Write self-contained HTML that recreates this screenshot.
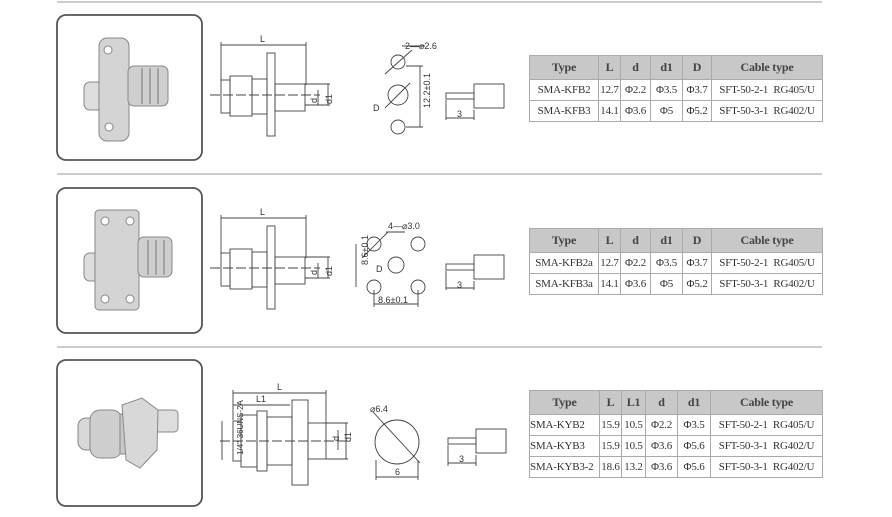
<!DOCTYPE html>
<html><head><meta charset="utf-8"><style>
body{margin:0;background:#fff;width:892px;height:517px;overflow:hidden;font-family:"Liberation Serif",serif}
svg{position:absolute;left:0;top:0}
table{position:absolute;border-collapse:collapse;table-layout:fixed;font-size:11px;letter-spacing:-0.2px;color:#333;border:1.5px solid #777}
td,th{border:1px solid #aaa;padding:0;height:20px;white-space:nowrap;text-align:center;overflow:hidden}
th{background:#c8c8c8;height:23px;font-weight:bold;color:#444;font-size:12px}
td.l{text-align:left}
</style></head><body>
<svg width="892" height="517" viewBox="0 0 892 517" font-family="Liberation Sans,sans-serif">
<g stroke="#ccc" stroke-width="2"><line x1="57" y1="2" x2="822" y2="2"/><line x1="57" y1="174" x2="822" y2="174"/><line x1="57" y1="347" x2="822" y2="347"/></g>
<g fill="none" stroke="#555" stroke-width="1.8">
<rect x="57" y="15" width="145" height="145" rx="9"/>
<rect x="57" y="188" width="145" height="145" rx="9"/>
<rect x="57" y="360" width="145" height="146" rx="9"/>
</g>
<g stroke="#888" stroke-width="1">
<rect x="84" y="82" width="30" height="28" rx="6" fill="#ddd"/>
<rect x="99" y="38" width="30" height="103" rx="8" fill="#d4d4d4"/>
<circle cx="108" cy="50" r="4" fill="#fff"/><circle cx="109" cy="127" r="4" fill="#fff"/>
<rect x="128" y="66" width="40" height="40" rx="6" fill="#cfcfcf"/>
<g stroke="#777"><line x1="142" y1="68" x2="142" y2="104"/><line x1="150" y1="68" x2="150" y2="104"/><line x1="158" y1="68" x2="158" y2="104"/></g>
</g>
<g stroke="#888" stroke-width="1">
<rect x="84" y="253" width="30" height="28" rx="6" fill="#ddd"/>
<rect x="95" y="210" width="44" height="100" rx="4" fill="#d4d4d4"/>
<circle cx="105" cy="221" r="4" fill="#fff"/><circle cx="105" cy="299" r="4" fill="#fff"/><circle cx="130" cy="221" r="4" fill="#fff"/><circle cx="130" cy="299" r="4" fill="#fff"/>
<rect x="138" y="237" width="34" height="40" rx="6" fill="#cfcfcf"/>
<g stroke="#777"><line x1="148" y1="240" x2="148" y2="275"/><line x1="156" y1="240" x2="156" y2="275"/><line x1="164" y1="240" x2="164" y2="275"/></g>
</g>
<g stroke="#888" stroke-width="1">
<rect x="150" y="410" width="28" height="22" rx="4" fill="#ddd"/>
<rect x="78" y="418" width="22" height="32" rx="8" fill="#d8d8d8"/>
<rect x="90" y="410" width="32" height="48" rx="10" fill="#cfcfcf"/>
<rect x="120" y="414" width="12" height="40" fill="#c8c8c8"/>
<polygon points="122,405 142,398 158,410 157,450 140,468 126,460" fill="#d8d8d8"/>
</g>
<g fill="none" stroke="#444" stroke-width="0.9">
<line x1="221" y1="45" x2="306" y2="45"/><line x1="221" y1="42" x2="221" y2="80"/><line x1="306" y1="42" x2="306" y2="85"/>
<rect x="221" y="80" width="9" height="33"/><rect x="230" y="76" width="22" height="40"/><rect x="252" y="79" width="15" height="35"/>
<rect x="267" y="53" width="8" height="83"/><rect x="275" y="84" width="30" height="27"/>
<line x1="305" y1="84" x2="330" y2="84"/><line x1="305" y1="105" x2="330" y2="105"/><line x1="318" y1="90" x2="318" y2="105"/><line x1="328" y1="84" x2="328" y2="105"/>
<line x1="210" y1="95" x2="320" y2="95" stroke-dasharray="10,3"/>
<circle cx="398" cy="62" r="7"/><circle cx="398" cy="95" r="10"/><circle cx="398" cy="127" r="7"/>
<line x1="385" y1="74" x2="412" y2="50"/><line x1="385" y1="108" x2="410" y2="83"/>
<line x1="402" y1="46" x2="425" y2="46"/><line x1="420" y1="66" x2="420" y2="127"/>
<line x1="406" y1="66" x2="423" y2="66"/><line x1="406" y1="127" x2="423" y2="127"/>
<rect x="446" y="93" width="28" height="6"/><rect x="474" y="84" width="30" height="24"/><line x1="446" y1="100" x2="446" y2="120"/><line x1="474" y1="110" x2="474" y2="120"/><line x1="446" y1="118" x2="474" y2="118"/>
<line x1="221" y1="218" x2="306" y2="218"/><line x1="221" y1="215" x2="221" y2="253"/><line x1="306" y1="215" x2="306" y2="258"/>
<rect x="221" y="253" width="9" height="33"/><rect x="230" y="249" width="22" height="40"/><rect x="252" y="252" width="15" height="35"/>
<rect x="267" y="226" width="8" height="83"/><rect x="275" y="257" width="30" height="27"/>
<line x1="305" y1="257" x2="330" y2="257"/><line x1="305" y1="278" x2="330" y2="278"/><line x1="318" y1="263" x2="318" y2="278"/><line x1="328" y1="257" x2="328" y2="278"/>
<line x1="210" y1="268" x2="320" y2="268" stroke-dasharray="10,3"/>
<circle cx="374" cy="244" r="7"/><circle cx="418" cy="244" r="7"/><circle cx="396" cy="265" r="8"/><circle cx="374" cy="287" r="7"/><circle cx="418" cy="287" r="7"/>
<line x1="362" y1="258" x2="388" y2="232"/><line x1="386" y1="232" x2="405" y2="232"/>
<line x1="356" y1="244" x2="356" y2="287"/><line x1="374" y1="304" x2="418" y2="304"/><line x1="374" y1="290" x2="374" y2="307"/><line x1="418" y1="290" x2="418" y2="307"/>
<rect x="446" y="264" width="28" height="6"/><rect x="474" y="255" width="30" height="24"/><line x1="446" y1="271" x2="446" y2="290"/><line x1="474" y1="281" x2="474" y2="290"/><line x1="446" y1="288" x2="474" y2="288"/>
<line x1="233" y1="393" x2="326" y2="393"/><line x1="233" y1="405" x2="290" y2="405"/><line x1="233" y1="390" x2="233" y2="420"/><line x1="326" y1="390" x2="326" y2="425"/>
<rect x="233" y="421" width="8" height="40"/><rect x="241" y="415" width="16" height="52"/><rect x="257" y="411" width="10" height="60"/><rect x="267" y="417" width="25" height="48"/>
<rect x="292" y="400" width="16" height="85"/><rect x="308" y="423" width="18" height="36"/>
<line x1="326" y1="423" x2="348" y2="423"/><line x1="326" y1="459" x2="348" y2="459"/><line x1="338" y1="430" x2="338" y2="450"/><line x1="346" y1="423" x2="346" y2="459"/>
<line x1="222" y1="421" x2="222" y2="460"/>
<line x1="220" y1="441" x2="350" y2="441" stroke-dasharray="10,3"/>
<circle cx="397" cy="442" r="22"/><line x1="373" y1="412" x2="420" y2="463"/><line x1="376" y1="477" x2="418" y2="477"/><line x1="376" y1="460" x2="376" y2="480"/><line x1="418" y1="460" x2="418" y2="480"/>
<rect x="448" y="438" width="28" height="6"/><rect x="476" y="429" width="30" height="24"/><line x1="448" y1="445" x2="448" y2="466"/><line x1="476" y1="455" x2="476" y2="466"/><line x1="448" y1="463" x2="476" y2="463"/>
</g>
<g font-size="9" fill="#333">
<text x="260" y="42">L</text><text x="310" y="100" transform="rotate(-90 315 98)">d</text><text x="322" y="102" transform="rotate(-90 328 98)">d1</text>
<text x="405" y="49">2—⌀2.6</text><text x="373" y="111">D</text><text x="426" y="112" transform="rotate(-90 426 108)">12.2±0.1</text><text x="457" y="117">3</text>
<text x="260" y="215">L</text><text x="310" y="272" transform="rotate(-90 315 270)">d</text><text x="322" y="274" transform="rotate(-90 328 270)">d1</text>
<text x="388" y="229">4—⌀3.0</text><text x="376" y="272">D</text><text x="353" y="280" transform="rotate(-90 353 265)">8.6±0.1</text><text x="378" y="303">8.6±0.1</text><text x="457" y="288">3</text>
<text x="277" y="390">L</text><text x="256" y="402">L1</text><text x="335" y="445" transform="rotate(-90 335 441)">d</text><text x="344" y="447" transform="rotate(-90 345 441)">d1</text>
<text x="205" y="465" transform="rotate(-90 219 441)" font-size="8">1/4"-36UNS-2A</text>
<text x="370" y="412">⌀6.4</text><text x="395" y="475">6</text><text x="459" y="462">3</text>
</g>
</svg>
<table style="left:529px;top:55px;width:294px">
<colgroup><col style="width:69px"><col style="width:22px"><col style="width:30px"><col style="width:32px"><col style="width:29px"><col></colgroup>
<tr><th>Type</th><th>L</th><th>d</th><th>d1</th><th>D</th><th>Cable type</th></tr>
<tr><td>SMA-KFB2</td><td>12.7</td><td>Φ2.2</td><td>Φ3.5</td><td>Φ3.7</td><td>SFT-50-2-1 &nbsp;RG405/U</td></tr>
<tr><td>SMA-KFB3</td><td>14.1</td><td>Φ3.6</td><td>Φ5</td><td>Φ5.2</td><td>SFT-50-3-1 &nbsp;RG402/U</td></tr>
</table>
<table style="left:529px;top:228px;width:294px">
<colgroup><col style="width:69px"><col style="width:22px"><col style="width:30px"><col style="width:32px"><col style="width:29px"><col></colgroup>
<tr><th>Type</th><th>L</th><th>d</th><th>d1</th><th>D</th><th>Cable type</th></tr>
<tr><td>SMA-KFB2a</td><td>12.7</td><td>Φ2.2</td><td>Φ3.5</td><td>Φ3.7</td><td>SFT-50-2-1 &nbsp;RG405/U</td></tr>
<tr><td>SMA-KFB3a</td><td>14.1</td><td>Φ3.6</td><td>Φ5</td><td>Φ5.2</td><td>SFT-50-3-1 &nbsp;RG402/U</td></tr>
</table>
<table style="left:529px;top:390px;width:294px">
<colgroup><col style="width:70px"><col style="width:22px"><col style="width:24px"><col style="width:32px"><col style="width:33px"><col></colgroup>
<tr><th>Type</th><th>L</th><th>L1</th><th>d</th><th>d1</th><th>Cable type</th></tr>
<tr><td class="l">SMA-KYB2</td><td>15.9</td><td>10.5</td><td>Φ2.2</td><td>Φ3.5</td><td>SFT-50-2-1 &nbsp;RG405/U</td></tr>
<tr><td class="l">SMA-KYB3</td><td>15.9</td><td>10.5</td><td>Φ3.6</td><td>Φ5.6</td><td>SFT-50-3-1 &nbsp;RG402/U</td></tr>
<tr><td class="l">SMA-KYB3-2</td><td>18.6</td><td>13.2</td><td>Φ3.6</td><td>Φ5.6</td><td>SFT-50-3-1 &nbsp;RG402/U</td></tr>
</table>
</body></html>
